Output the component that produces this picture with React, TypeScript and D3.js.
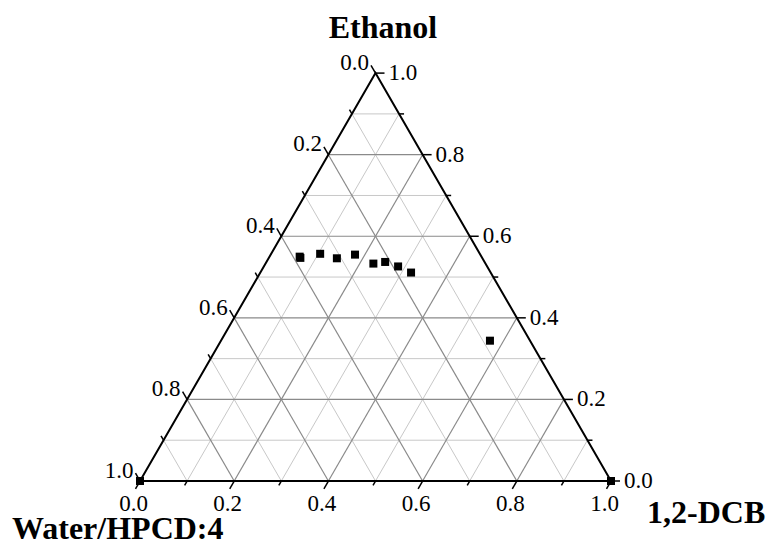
import React from "react";
import * as d3 from "d3";

// Ternary composition data (mass fractions)
const water = [0.386, 0.386, 0.339, 0.309, 0.266, 0.238, 0.211, 0.189, 0.169, 0.085, 1, 0];
const ethanol = [0.55, 0.547, 0.557, 0.546, 0.555, 0.533, 0.537, 0.526, 0.511, 0.344, 0, 0];
const dcb = [0.064, 0.067, 0.104, 0.145, 0.179, 0.229, 0.252, 0.285, 0.32, 0.571, 0, 1];

const majorTicks = [0, 0.2, 0.4, 0.6, 0.8, 1.0];
const minorTicks = [0.1, 0.3, 0.5, 0.7, 0.9];
const gridMajor = [0.2, 0.4, 0.6, 0.8];
const gridMinor = [0.1, 0.3, 0.5, 0.7, 0.9];

const titleTop = "Ethanol";
const titleLeft = "Water/HPCD:4";
const titleRight = "1,2-DCB";

const W = 771;
const H = 545;
const left = 140;
const base = 481;
const side = 471;

const xs = d3.scaleLinear().domain([0, 1]).range([left, left + side]);
const ys = d3.scaleLinear().domain([0, 1]).range([base, base - side * Math.sqrt(3) / 2]);

// d = 1,2-DCB fraction, e = ethanol fraction
const proj = (d: number, e: number): [number, number] => [xs(d + e / 2), ys(e)];

const fmt = d3.format(".1f");
const FONT = "'Liberation Serif', 'Times New Roman', serif";
const TICK_FS = 23;

export default function App() {
  const line = d3.line();
  const gridLines: { p: [number, number][]; major: boolean }[] = [];
  const addFamily = (vals: number[], major: boolean) => {
    vals.forEach((v) => {
      gridLines.push({ p: [proj(0, v), proj(1 - v, v)], major });
      gridLines.push({ p: [proj(v, 0), proj(v, 1 - v)], major });
      gridLines.push({ p: [proj(1 - v, 0), proj(0, 1 - v)], major });
    });
  };
  addFamily(gridMinor, false);
  addFamily(gridMajor, true);

  const c60 = 0.5;
  const s60 = Math.sqrt(3) / 2;
  const majLen = 9;
  const minLen = 5;

  const ticks: any[] = [];
  const labels: any[] = [];
  const addTicks = (vals: number[], len: number, withLabel: boolean) => {
    vals.forEach((v, i) => {
      // bottom axis: DCB
      const [bx, by] = proj(v, 0);
      const bex = bx - c60 * len, bey = by + s60 * len;
      ticks.push(<line key={`b${len}${i}`} x1={bx} y1={by} x2={bex} y2={bey} stroke="#000" strokeWidth={1.5} />);
      if (withLabel)
        labels.push(
          <text key={`bl${i}`} x={bex - 2} y={bey + 22} textAnchor="middle" fontSize={TICK_FS} fontFamily={FONT}>
            {fmt(v)}
          </text>
        );
      // right axis: ethanol
      const [rx, ry] = proj(1 - v, v);
      const rex = rx + len, rey = ry;
      ticks.push(<line key={`r${len}${i}`} x1={rx} y1={ry} x2={rex} y2={rey} stroke="#000" strokeWidth={1.5} />);
      if (withLabel)
        labels.push(
          <text key={`rl${i}`} x={rex + 4} y={rey - 1} dy="0.35em" textAnchor="start" fontSize={TICK_FS} fontFamily={FONT}>
            {fmt(v)}
          </text>
        );
      // left axis: water (0 at top, 1 at bottom-left)
      const [lx, ly] = proj(0, 1 - v);
      const lex = lx - c60 * len, ley = ly - s60 * len;
      ticks.push(<line key={`l${len}${i}`} x1={lx} y1={ly} x2={lex} y2={ley} stroke="#000" strokeWidth={1.5} />);
      if (withLabel)
        labels.push(
          <text key={`ll${i}`} x={lex - 2} y={ley - 3.5} dy="0.35em" textAnchor="end" fontSize={TICK_FS} fontFamily={FONT}>
            {fmt(v)}
          </text>
        );
    });
  };
  addTicks(minorTicks, minLen, false);
  addTicks(majorTicks, majLen, true);

  const tri = [proj(0, 0), proj(1, 0), proj(0, 1)];
  const ms = 8;

  return (
    <svg width={W} height={H} style={{ position: "absolute", left: 0, top: 0, background: "#fff" }}>
      <rect x={0} y={0} width={W} height={H} fill="#fff" />
      {gridLines
        .filter((g) => !g.major)
        .map((g, i) => (
          <path key={`gm${i}`} d={line(g.p) || ""} stroke="#c8c8c8" strokeWidth={1} fill="none" />
        ))}
      {gridLines
        .filter((g) => g.major)
        .map((g, i) => (
          <path key={`gM${i}`} d={line(g.p) || ""} stroke="#8a8a8a" strokeWidth={1.2} fill="none" />
        ))}
      <path d={(line(tri as [number, number][]) || "") + "Z"} stroke="#000" strokeWidth={2} fill="none" strokeLinejoin="miter" />
      {ticks}
      {labels}
      {water.map((w, i) => {
        const [x, y] = proj(dcb[i], ethanol[i]);
        return <rect key={`p${i}`} x={x - ms / 2} y={y - ms / 2} width={ms} height={ms} fill="#000" />;
      })}
      <text x={383} y={38} textAnchor="middle" fontSize={32} fontWeight="bold" fontFamily={FONT}>
        {titleTop}
      </text>
      <text x={12} y={539} textAnchor="start" fontSize={32} fontWeight="bold" fontFamily={FONT}>
        {titleLeft}
      </text>
      <text x={647} y={523} textAnchor="start" fontSize={32} fontWeight="bold" fontFamily={FONT}>
        {titleRight}
      </text>
    </svg>
  );
}
